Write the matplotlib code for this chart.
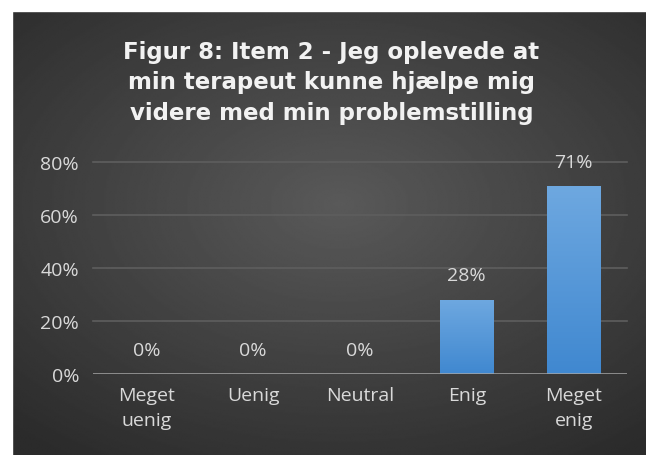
import numpy as np
import matplotlib.pyplot as plt
from matplotlib.colors import LinearSegmentedColormap
from matplotlib.patches import Rectangle

kategorier = ["Meget\nuenig", "Uenig", "Neutral", "Enig", "Meget\nenig"]
andele = [0.0, 0.0, 0.0, 0.28, 0.71]
etiketter = ["0%", "0%", "0%", "28%", "71%"]
y_ticks = [0, 0.2, 0.4, 0.6, 0.8]
y_labels = ["0%", "20%", "40%", "60%", "80%"]
titel = "Figur 8: Item 2 - Jeg oplevede at\nmin terapeut kunne hjælpe mig\nvidere med min problemstilling"

plt.rcParams['font.family'] = ['Open Sans', 'DejaVu Sans']
tekst = '#d9d9d9'

fig = plt.figure(figsize=(6.46, 4.56), dpi=100)
fig.patch.set_facecolor('#262626')

# baggrund med radial gradient
bg = fig.add_axes([0, 0, 1, 1])
gx, gy = np.meshgrid(np.linspace(-1, 1, 400), np.linspace(-1, 1, 300))
r = np.sqrt(((gx - 0.05) / 1.1) ** 2 + ((gy + 0.1) / 1.0) ** 2)
val = 0.35 - 0.18 * np.clip(r / 1.35, 0, 1)
bg.imshow(val, cmap='gray', vmin=0, vmax=1, aspect='auto', extent=[0, 1, 0, 1],
          interpolation='bilinear')
bg.set_xlim(0, 1)
bg.set_ylim(0, 1)
bg.axis('off')
# hvid kant til venstre og foroven
bg.add_patch(Rectangle((0, 0), 12/646, 1, color='white', zorder=5))
bg.add_patch(Rectangle((0, 1 - 12/456), 1, 12/456, color='white', zorder=5))

ax = fig.add_axes([93/646, 1 - 375/456, 534/646, 212/456])
ax.set_facecolor('none')
x = np.arange(len(kategorier))
bars = ax.bar(x, andele, width=0.5, color='#5b9bd5', zorder=3)

cmap = LinearSegmentedColormap.from_list('blaa', ['#4088d0', '#6ea8e0'])
grad = np.linspace(0, 1, 100).reshape(-1, 1)
for b in bars:
    if b.get_height() > 0:
        im = ax.imshow(grad, cmap=cmap, origin='lower', aspect='auto', zorder=4,
                       extent=[b.get_x(), b.get_x() + b.get_width(), 0, b.get_height()])
        im.set_clip_path(b)

for xi, v, lab in zip(x, andele, etiketter):
    ax.annotate(lab, (xi, v), xytext=(0, 17.5), textcoords='offset points',
                ha='center', va='center', color=tekst, fontsize=14)

ax.set_xlim(-0.5, len(kategorier) - 0.5)
ax.set_ylim(0, 0.8)
ax.set_yticks(y_ticks)
ax.set_yticklabels(y_labels)
ax.set_xticks(x)
ax.set_xticklabels(kategorier, linespacing=1.45)
for yt in y_ticks[1:]:
    ax.axhline(yt, color='#5e5e5e', lw=1.2, zorder=1, clip_on=False)
ax.axhline(0, color='#a6a6a6', lw=1.8, zorder=5)
for s in ax.spines.values():
    s.set_visible(False)
ax.tick_params(length=0, colors=tekst, labelsize=14)
ax.tick_params(axis='y', pad=10)
ax.tick_params(axis='x', pad=9)

fig.text(0.513, 1 - 83/456, titel, ha='center', va='center', color='#f2f2f2',
         fontsize=16.5, fontweight='bold', linespacing=1.42,
         family=['DejaVu Sans'])

plt.savefig('out.png', dpi=100, facecolor=fig.get_facecolor())
